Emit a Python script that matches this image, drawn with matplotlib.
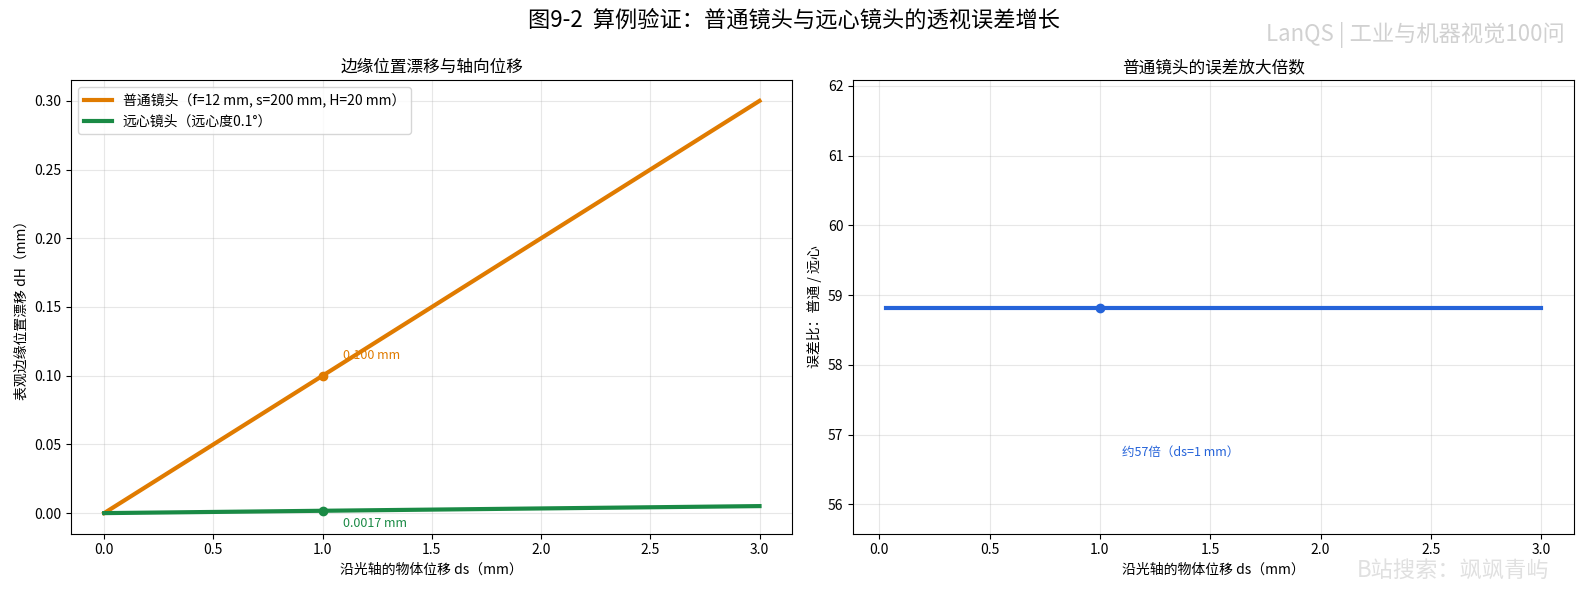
import numpy as np
import matplotlib
matplotlib.use("Agg")
import matplotlib.pyplot as plt

plt.rcParams['font.family'] = ['Noto Sans CJK SC', 'DejaVu Sans']
plt.rcParams['axes.unicode_minus'] = False

# data
ds = [0.0, 1.0, 2.0, 3.0]
dh_normal = [0.0, 0.1, 0.2, 0.3]
dh_tele = [0.0, 0.0017, 0.0034, 0.0051]
ds_ratio = [0.03, 1.0, 2.0, 3.0]
ratio = [58.82, 58.82, 58.82, 58.82]

c_norm = '#e07b00'
c_tele = '#1a8a45'
c_ratio = '#2563d9'

fig, (ax1, ax2) = plt.subplots(1, 2, figsize=(15.89, 5.92), dpi=100)
fig.suptitle('图9-2  算例验证：普通镜头与远心镜头的透视误差增长', fontsize=16, y=0.985)

ax1.plot(ds, dh_normal, color=c_norm, lw=3, label='普通镜头（f=12 mm, s=200 mm, H=20 mm）')
ax1.plot(ds, dh_tele, color=c_tele, lw=3, label='远心镜头（远心度0.1°）')
ax1.plot(ds[1], dh_normal[1], 'o', color=c_norm)
ax1.plot(ds[1], dh_tele[1], 'o', color=c_tele)
ax1.annotate('0.100 mm', (ds[1], dh_normal[1]), xytext=(15, 12), textcoords='offset points', color=c_norm, fontsize=9)
ax1.annotate('0.0017 mm', (ds[1], dh_tele[1]), xytext=(15, -12), textcoords='offset points', color=c_tele, fontsize=9)
ax1.set_title('边缘位置漂移与轴向位移')
ax1.set_xlabel('沿光轴的物体位移 ds（mm）')
ax1.set_ylabel('表观边缘位置漂移 dH（mm）')
ax1.grid(alpha=0.3)
ax1.legend(loc='upper left')

ax2.plot(ds_ratio, ratio, color=c_ratio, lw=3)
ax2.plot(1.0, ratio[1], 'o', color=c_ratio)
ax2.text(1.1, 56.7, '约57倍（ds=1 mm）', color=c_ratio, fontsize=9)
ax2.set_ylim(55.58, 62.08)
ax2.set_title('普通镜头的误差放大倍数')
ax2.set_xlabel('沿光轴的物体位移 ds（mm）')
ax2.set_ylabel('误差比：普通 / 远心')
ax2.grid(alpha=0.3)

fig.text(0.985, 0.93, 'LanQS | 工业与机器视觉100问', ha='right', fontsize=16, color='#cccccc', alpha=0.9)
fig.text(0.975, 0.025, 'B站搜索：飒飒青屿', ha='right', fontsize=16, color='#dddddd', alpha=0.9)

fig.tight_layout(rect=[0, 0, 1, 0.99])
fig.savefig('out.png')
